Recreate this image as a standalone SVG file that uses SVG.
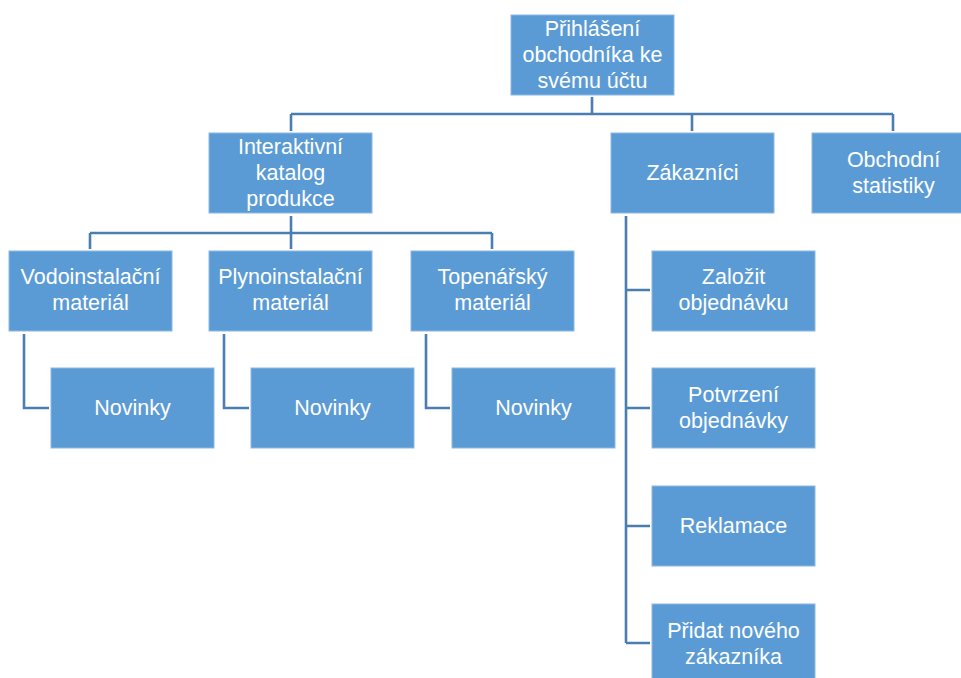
<svg xmlns="http://www.w3.org/2000/svg" width="961" height="678" viewBox="0 0 961 678">
  <style>
    .box { fill: #5B9BD5; stroke: #8DB8E2; stroke-width: 1; }
    .lbl { font-family: "Liberation Sans", Arial, sans-serif; font-size: 21.5px; fill: #FFFFFF; text-anchor: middle; }
    .wire { fill: none; stroke: #4A7EB3; stroke-width: 2.6; }
  </style>
  <rect width="961" height="678" fill="#FFFFFF"/>

  <!-- connectors -->
  <g id="connectors">
    <path class="wire" d="M592 97 V114 M291 114 H893 M291 114 V131 M692 114 V131 M893 114 V131"/>
    <path class="wire" d="M291 216 V233 M90 233 H492 M90 233 V249 M291 233 V249 M492 233 V249"/>
    <path class="wire" d="M24 334 V408 H49"/>
    <path class="wire" d="M224 334 V408 H249"/>
    <path class="wire" d="M426 334 V408 H450"/>
    <path class="wire" d="M626 216 V643 M626 290 H650 M626 408 H650 M626 526 H650 M626 643 H650"/>
  </g>

  <!-- top level -->
  <g id="root">
    <rect class="box" x="511" y="15" width="163" height="80"/>
    <text class="lbl" x="592.5" y="36">Přihlášení</text>
    <text class="lbl" x="592.5" y="62">obchodníka ke</text>
    <text class="lbl" x="592.5" y="88">svému účtu</text>
  </g>

  <!-- second level -->
  <g id="katalog">
    <rect class="box" x="209" y="133" width="163" height="80"/>
    <text class="lbl" x="290.5" y="154">Interaktivní</text>
    <text class="lbl" x="290.5" y="180">katalog</text>
    <text class="lbl" x="290.5" y="206">produkce</text>
  </g>
  <g id="zakaznici">
    <rect class="box" x="611" y="133" width="163" height="80"/>
    <text class="lbl" x="692.5" y="180">Zákazníci</text>
  </g>
  <g id="statistiky">
    <rect class="box" x="812" y="133" width="163" height="80"/>
    <text class="lbl" x="893.5" y="167">Obchodní</text>
    <text class="lbl" x="893.5" y="193">statistiky</text>
  </g>

  <!-- catalogue categories -->
  <g id="vodo">
    <rect class="box" x="9" y="251" width="163" height="80"/>
    <text class="lbl" x="90.5" y="284">Vodoinstalační</text>
    <text class="lbl" x="90.5" y="310">materiál</text>
  </g>
  <g id="plyno">
    <rect class="box" x="209" y="251" width="163" height="80"/>
    <text class="lbl" x="290.5" y="284">Plynoinstalační</text>
    <text class="lbl" x="290.5" y="310">materiál</text>
  </g>
  <g id="topenarsky">
    <rect class="box" x="411" y="251" width="163" height="80"/>
    <text class="lbl" x="492.5" y="284">Topenářský</text>
    <text class="lbl" x="492.5" y="310">materiál</text>
  </g>

  <!-- news under each category -->
  <g id="novinky-vodo">
    <rect class="box" x="51" y="368" width="163" height="80"/>
    <text class="lbl" x="132.5" y="415">Novinky</text>
  </g>
  <g id="novinky-plyno">
    <rect class="box" x="251" y="368" width="163" height="80"/>
    <text class="lbl" x="332.5" y="415">Novinky</text>
  </g>
  <g id="novinky-topenarsky">
    <rect class="box" x="452" y="368" width="163" height="80"/>
    <text class="lbl" x="533.5" y="415">Novinky</text>
  </g>

  <!-- customer actions -->
  <g id="zalozit">
    <rect class="box" x="652" y="251" width="163" height="80"/>
    <text class="lbl" x="733.5" y="284">Založit</text>
    <text class="lbl" x="733.5" y="310">objednávku</text>
  </g>
  <g id="potvrzeni">
    <rect class="box" x="652" y="368" width="163" height="80"/>
    <text class="lbl" x="733.5" y="402">Potvrzení</text>
    <text class="lbl" x="733.5" y="428">objednávky</text>
  </g>
  <g id="reklamace">
    <rect class="box" x="652" y="486" width="163" height="80"/>
    <text class="lbl" x="733.5" y="533">Reklamace</text>
  </g>
  <g id="pridat">
    <rect class="box" x="652" y="604" width="163" height="80"/>
    <text class="lbl" x="733.5" y="638">Přidat nového</text>
    <text class="lbl" x="733.5" y="664">zákazníka</text>
  </g>
</svg>
